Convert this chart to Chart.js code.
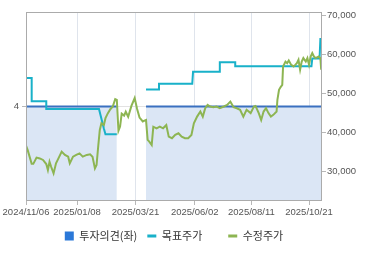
<!DOCTYPE html>
<html>
<head>
<meta charset="utf-8">
<script src="https://cdn.jsdelivr.net/npm/chart.js@4/dist/chart.umd.min.js"></script>
<style>
  html, body { margin: 0; padding: 0; background: #ffffff; }
  #wrap { width: 370px; height: 255px; }
</style>
</head>
<body>
<div id="wrap"><canvas id="c" width="370" height="255"></canvas></div>
<script>
// x values are day offsets from 2024/11/06
const xTickDays = [0, 63, 135, 208, 278, 349];
const xTickLabels = ['2024/11/06', '2025/01/08', '2025/03/21', '2025/06/02', '2025/08/11', '2025/10/21'];
const leftTicks = [4];
const rightTicks = [30000, 40000, 50000, 60000, 70000];

const seriesNames = ['투자의견(좌)', '목표주가', '수정주가'];

// 투자의견 (left axis)
const opinionDays = [0, 112, 113, 148, 365];
const opinionValues = [4, 4, null, 4, 4];

// 목표주가 (right axis)
const targetDays = [0, 7, 7, 25, 25, 90, 96, 98, 112, 113, 148, 164, 164, 205, 206, 238, 239, 258, 258, 352, 353, 362, 363, 365];
const targetValues = [54000, 54000, 48000, 48000, 46000, 46000, 41000, 39500, 39500, null, 51000, 51000, 52500, 52500, 55600, 55600, 58000, 58000, 57000, 57000, 59000, 59000, 64000, 64000];

// 수정주가 (right axis)
const priceDays = [0, 2, 7, 9, 13, 17, 21, 25, 27, 29, 31, 34, 37, 40, 44, 48, 52, 54, 58, 62, 66, 70, 75, 79, 82, 85, 87, 89, 91, 93, 96, 98, 101, 104, 107, 110, 112, 114, 116, 118, 121, 123, 126, 130, 134, 137, 140, 144, 148, 150, 152, 155, 157, 161, 165, 169, 173, 176, 180, 184, 188, 192, 196, 200, 204, 207, 211, 215, 218, 221, 224, 227, 231, 235, 239, 244, 248, 252, 256, 260, 264, 268, 272, 277, 281, 283, 287, 290, 293, 296, 299, 302, 305, 309, 310, 312, 314, 316, 317, 320, 322, 324, 327, 330, 332, 334, 336, 338, 340, 342, 345, 347, 349, 351, 353, 355, 357, 361, 363, 364];
const priceValues = [36600, 35500, 31900, 31900, 33500, 33300, 32900, 31850, 30300, 32450, 31150, 29450, 32050, 33300, 35050, 34200, 33750, 32050, 33750, 34200, 34600, 33750, 34200, 34350, 33750, 30750, 31600, 36300, 40600, 42350, 41900, 43650, 44950, 45950, 46650, 48550, 48350, 40400, 41500, 44800, 44300, 45300, 44000, 46800, 48800, 46000, 43800, 42800, 43200, 38050, 37600, 36750, 41450, 41050, 41450, 41050, 41900, 38900, 38500, 39350, 39750, 38900, 38500, 38500, 39350, 42350, 44050, 45350, 44050, 46200, 47050, 46650, 46450, 46650, 46200, 46650, 47050, 47900, 46450, 46200, 45800, 44050, 45800, 44950, 46650, 46800, 44950, 43200, 45350, 46200, 44950, 44050, 44500, 45350, 48350, 50950, 51650, 52200, 56950, 58200, 57800, 58500, 57350, 56950, 57350, 57800, 58650, 56100, 58200, 59100, 58200, 59100, 57350, 59500, 60400, 59500, 59100, 59500, 59100, 56100];

const toPoints = (xs, ys) => xs.map((x, i) => ({ x: x, y: ys[i] }));

const COLORS = {
  opinionLine: '#3a70c0',
  opinionFill: '#dbe6f5',
  opinionLegend: '#2b78d8',
  target: '#19b1c9',
  price: '#8db552',
  frame: '#ababab',
  grid: '#dfe4ec',
  tick: '#b8b8b8',
  text: '#555555'
};

const tickFont = { family: '"Liberation Sans", Arial, sans-serif', size: 9.5 };

const framePlugin = {
  id: 'frame',
  afterDatasetsDraw(chart) {
    const a = chart.chartArea;
    const ctx = chart.ctx;
    ctx.save();
    ctx.strokeStyle = COLORS.frame;
    ctx.lineWidth = 1;
    ctx.strokeRect(Math.round(a.left) + 0.5, Math.round(a.top) + 0.5,
      Math.round(a.right - a.left) - 1, Math.round(a.bottom - a.top) - 1);
    ctx.restore();
  }
};

new Chart(document.getElementById('c'), {
  type: 'line',
  data: {
    datasets: [
      {
        label: seriesNames[0],
        data: toPoints(opinionDays, opinionValues),
        yAxisID: 'yL',
        borderColor: COLORS.opinionLine,
        backgroundColor: COLORS.opinionFill,
        borderWidth: 2,
        fill: 'start',
        pointRadius: 0,
        spanGaps: false,
        order: 3
      },
      {
        label: seriesNames[1],
        data: toPoints(targetDays, targetValues),
        yAxisID: 'yR',
        borderColor: COLORS.target,
        backgroundColor: COLORS.target,
        borderWidth: 2,
        fill: false,
        pointRadius: 0,
        spanGaps: false,
        order: 2
      },
      {
        label: seriesNames[2],
        data: toPoints(priceDays, priceValues),
        yAxisID: 'yR',
        borderColor: COLORS.price,
        backgroundColor: COLORS.price,
        borderWidth: 2,
        fill: false,
        pointRadius: 0,
        order: 1
      }
    ]
  },
  options: {
    responsive: false,
    animation: false,
    devicePixelRatio: 1,
    parsing: true,
    layout: { padding: { top: 12, bottom: 3.5, left: 0, right: 0 } },
    plugins: {
      tooltip: { enabled: false },
      legend: {
        position: 'bottom',
        fullSize: false,
        labels: {
          usePointStyle: true,
          pointStyleWidth: 9,
          boxHeight: 9,
          padding: 10,
          color: '#333333',
          font: { family: '"Noto Sans CJK KR", sans-serif', size: 11 },
          generateLabels: () => [
            { text: seriesNames[0], fillStyle: COLORS.opinionLegend, strokeStyle: COLORS.opinionLegend, lineWidth: 0, pointStyle: 'rect', datasetIndex: 0, fontColor: '#333333' },
            { text: seriesNames[1] + '\u3000  ', fillStyle: COLORS.target, strokeStyle: COLORS.target, lineWidth: 3, pointStyle: 'line', datasetIndex: 1, fontColor: '#333333' },
            { text: seriesNames[2], fillStyle: COLORS.price, strokeStyle: COLORS.price, lineWidth: 3, pointStyle: 'line', datasetIndex: 2, fontColor: '#333333' }
          ]
        }
      }
    },
    scales: {
      x: {
        type: 'linear',
        min: 0,
        max: 365,
        afterBuildTicks: (axis) => { axis.ticks = xTickDays.map(v => ({ value: v })); },
        afterFit: (axis) => { axis.height = 19.5; },
        ticks: {
          autoSkip: false,
          maxRotation: 0,
          minRotation: 0,
          padding: 2,
          color: COLORS.text,
          font: tickFont,
          callback: (v) => xTickLabels[xTickDays.indexOf(v)]
        },
        grid: { color: COLORS.grid, tickColor: COLORS.tick, tickLength: 4, drawTicks: true },
        border: { display: false }
      },
      yL: {
        type: 'linear',
        position: 'left',
        min: 3,
        max: 5,
        afterBuildTicks: (axis) => { axis.ticks = leftTicks.map(v => ({ value: v })); },
        afterFit: (axis) => { axis.width = 26; },
        ticks: { padding: 3, color: COLORS.text, font: tickFont },
        grid: { color: '#e2e2e2', tickColor: COLORS.tick, tickLength: 4 },
        border: { display: false }
      },
      yR: {
        type: 'linear',
        position: 'right',
        min: 22350,
        max: 70950,
        afterBuildTicks: (axis) => { axis.ticks = rightTicks.map(v => ({ value: v })); },
        afterFit: (axis) => { axis.width = 48; },
        ticks: {
          padding: 1,
          color: COLORS.text,
          font: tickFont,
          callback: (v) => v.toLocaleString('en-US')
        },
        grid: { drawOnChartArea: false, tickColor: COLORS.tick, tickLength: 4 },
        border: { display: false }
      }
    }
  },
  plugins: [framePlugin]
});
</script>
</body>
</html>
